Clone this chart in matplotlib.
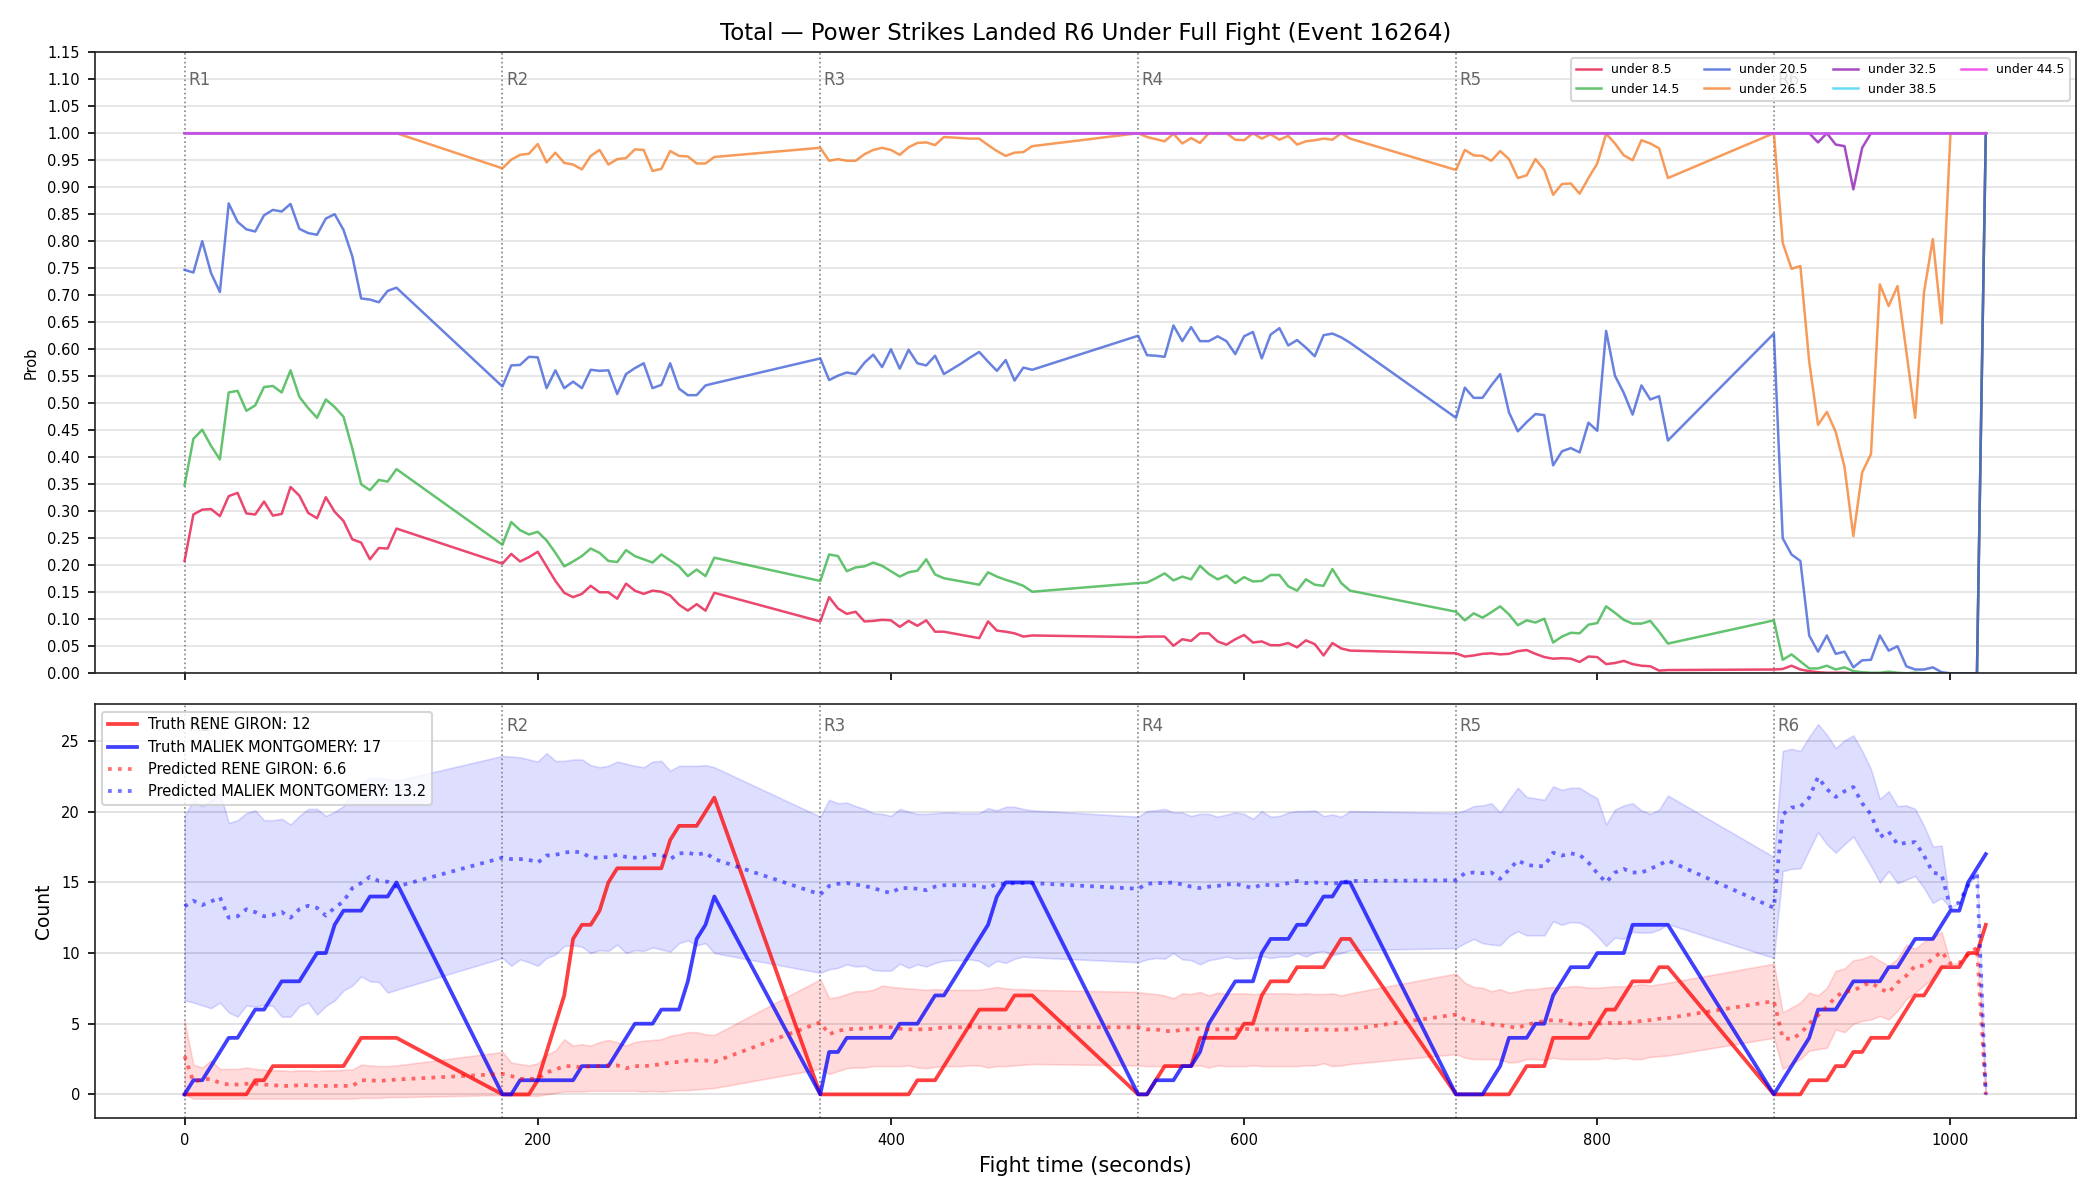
import numpy as np
import matplotlib
matplotlib.use("Agg")
import matplotlib.pyplot as plt
import matplotlib.transforms as mtransforms

# ---------------- sampling grid ----------------
ROUND_STARTS = [0, 180, 360, 540, 720, 900]
ROUND_LABELS = ["R1", "R2", "R3", "R4", "R5", "R6"]
SAMPLE_STEP = 5
SAMPLES_PER_ROUND = 25
time_s = np.concatenate([s + SAMPLE_STEP * np.arange(SAMPLES_PER_ROUND) for s in ROUND_STARTS])

# ---------------- top panel: P(total under line) ----------------
UNDER_8_5 = (
    [0.208, 0.294, 0.303, 0.304, 0.291, 0.328, 0.334, 0.296, 0.294, 0.318, 0.292, 0.295, 0.345, 0.329, 0.297, 0.287, 0.326, 0.299, 0.282, 0.248, 0.242, 0.211, 0.232, 0.231, 0.268]
    + [0.203, 0.221, 0.207, 0.215, 0.225, 0.198, 0.171, 0.149, 0.141, 0.147, 0.162, 0.150, 0.150, 0.138, 0.166, 0.153, 0.147, 0.153, 0.151, 0.144, 0.127, 0.116, 0.128, 0.116, 0.149]
    + [0.096, 0.141, 0.120, 0.110, 0.114, 0.096, 0.097, 0.099, 0.098, 0.086, 0.097, 0.088, 0.098, 0.077, 0.077, 0.074, 0.071, 0.068, 0.065, 0.096, 0.079, 0.077, 0.074, 0.068, 0.070]
    + [0.067, 0.068, 0.068, 0.068, 0.051, 0.063, 0.060, 0.074, 0.074, 0.059, 0.053, 0.063, 0.071, 0.057, 0.059, 0.052, 0.052, 0.056, 0.048, 0.061, 0.054, 0.033, 0.056, 0.046, 0.042]
    + [0.037, 0.031, 0.033, 0.036, 0.037, 0.035, 0.036, 0.041, 0.043, 0.036, 0.030, 0.027, 0.028, 0.027, 0.021, 0.031, 0.030, 0.017, 0.019, 0.023, 0.017, 0.014, 0.013, 0.005, 0.006]
    + [0.007, 0.008, 0.014, 0.007, 0.004, 0.002, 0.001, 0.001, 0.001, 0.0, 0.0, 0.0, 0.0, 0.0, 0.0, 0.0, 0.0, 0.0, 0.0, 0.0, 0.0, 0.0, 0.0, 0.0, 1.0]
)
UNDER_14_5 = (
    [0.348, 0.434, 0.451, 0.421, 0.396, 0.520, 0.523, 0.486, 0.496, 0.530, 0.532, 0.520, 0.561, 0.512, 0.491, 0.473, 0.507, 0.493, 0.475, 0.416, 0.350, 0.339, 0.358, 0.355, 0.378]
    + [0.238, 0.280, 0.265, 0.257, 0.262, 0.246, 0.223, 0.198, 0.207, 0.217, 0.231, 0.223, 0.208, 0.206, 0.228, 0.217, 0.211, 0.205, 0.220, 0.209, 0.198, 0.180, 0.192, 0.180, 0.214]
    + [0.171, 0.220, 0.217, 0.189, 0.196, 0.198, 0.205, 0.199, 0.189, 0.179, 0.187, 0.190, 0.211, 0.183, 0.176, 0.173, 0.170, 0.167, 0.164, 0.187, 0.179, 0.173, 0.168, 0.162, 0.151]
    + [0.167, 0.168, 0.176, 0.185, 0.172, 0.179, 0.174, 0.199, 0.184, 0.174, 0.181, 0.167, 0.178, 0.170, 0.171, 0.182, 0.182, 0.161, 0.153, 0.174, 0.164, 0.162, 0.193, 0.167, 0.153]
    + [0.114, 0.098, 0.111, 0.103, 0.113, 0.124, 0.109, 0.089, 0.098, 0.094, 0.101, 0.057, 0.068, 0.075, 0.074, 0.090, 0.093, 0.124, 0.112, 0.099, 0.092, 0.092, 0.097, 0.077, 0.055]
    + [0.098, 0.025, 0.035, 0.022, 0.009, 0.009, 0.014, 0.007, 0.011, 0.004, 0.002, 0.001, 0.001, 0.003, 0.001, 0.0, 0.001, 0.0, 0.0, 0.0, 0.0, 0.0, 0.0, 0.0, 1.0]
)
UNDER_20_5 = (
    [0.747, 0.742, 0.800, 0.741, 0.706, 0.870, 0.836, 0.822, 0.818, 0.848, 0.858, 0.855, 0.869, 0.823, 0.815, 0.812, 0.842, 0.850, 0.821, 0.772, 0.694, 0.692, 0.687, 0.708, 0.714]
    + [0.531, 0.570, 0.571, 0.586, 0.585, 0.528, 0.561, 0.528, 0.540, 0.528, 0.562, 0.560, 0.561, 0.517, 0.554, 0.565, 0.574, 0.528, 0.534, 0.574, 0.527, 0.515, 0.515, 0.533, 0.537]
    + [0.583, 0.543, 0.551, 0.557, 0.554, 0.575, 0.590, 0.567, 0.600, 0.564, 0.599, 0.574, 0.570, 0.588, 0.554, 0.564, 0.574, 0.585, 0.595, 0.577, 0.560, 0.580, 0.542, 0.566, 0.562]
    + [0.625, 0.589, 0.588, 0.586, 0.644, 0.615, 0.641, 0.615, 0.615, 0.624, 0.615, 0.591, 0.624, 0.632, 0.583, 0.627, 0.639, 0.607, 0.617, 0.603, 0.587, 0.626, 0.629, 0.622, 0.612]
    + [0.473, 0.529, 0.510, 0.510, 0.533, 0.554, 0.483, 0.448, 0.465, 0.480, 0.478, 0.385, 0.411, 0.417, 0.409, 0.464, 0.449, 0.634, 0.551, 0.519, 0.479, 0.533, 0.507, 0.513, 0.431]
    + [0.629, 0.250, 0.220, 0.208, 0.070, 0.040, 0.070, 0.036, 0.040, 0.011, 0.024, 0.025, 0.070, 0.042, 0.050, 0.013, 0.007, 0.007, 0.011, 0.002, 0.0, 0.0, 0.0, 0.0, 1.0]
)
UNDER_26_5 = (
    [1.0] * 25
    + [0.935, 0.951, 0.960, 0.962, 0.980, 0.946, 0.964, 0.945, 0.942, 0.933, 0.958, 0.969, 0.942, 0.952, 0.954, 0.970, 0.969, 0.930, 0.934, 0.967, 0.958, 0.957, 0.944, 0.944, 0.956]
    + [0.973, 0.949, 0.952, 0.949, 0.949, 0.961, 0.969, 0.973, 0.969, 0.960, 0.974, 0.982, 0.983, 0.978, 0.993, 0.992, 0.991, 0.990, 0.990, 0.978, 0.967, 0.958, 0.964, 0.965, 0.976]
    + [1.0, 0.993, 0.989, 0.985, 0.999, 0.981, 0.991, 0.982, 1.0, 1.0, 1.0, 0.988, 0.987, 1.0, 0.990, 0.998, 0.988, 0.995, 0.979, 0.985, 0.987, 0.990, 0.988, 1.0, 0.990]
    + [0.932, 0.969, 0.959, 0.958, 0.949, 0.967, 0.952, 0.917, 0.922, 0.952, 0.932, 0.886, 0.906, 0.907, 0.888, 0.917, 0.944, 0.999, 0.981, 0.959, 0.950, 0.987, 0.981, 0.972, 0.917]
    + [1.0, 0.797, 0.749, 0.754, 0.577, 0.460, 0.484, 0.447, 0.382, 0.254, 0.372, 0.406, 0.720, 0.680, 0.717, 0.596, 0.473, 0.705, 0.804, 0.648, 1.0, 1.0, 1.0, 1.0, 1.0]
)
UNDER_32_5 = (
    [1.0] * 125
    + [1.0, 1.0, 1.0, 1.0, 1.0, 0.983, 1.0, 0.979, 0.976, 0.896, 0.973, 1.0, 1.0, 1.0, 1.0, 1.0, 1.0, 1.0, 1.0, 1.0, 1.0, 1.0, 1.0, 1.0, 1.0]
)
UNDER_38_5 = [1.0] * 150
UNDER_44_5 = [1.0] * 150

TOP_SERIES = [UNDER_8_5, UNDER_14_5, UNDER_20_5, UNDER_26_5, UNDER_32_5, UNDER_38_5, UNDER_44_5]
TOP_LABELS = ["under 8.5", "under 14.5", "under 20.5", "under 26.5", "under 32.5", "under 38.5", "under 44.5"]
TOP_COLORS = ["#e6194b", "#3cb44b", "#4363d8", "#f58231", "#911eb4", "#42d4f4", "#f032e6"]

# ---------------- bottom panel: counts ----------------
TRUTH_RENE = (
    [0, 0, 0, 0, 0, 0, 0, 0, 1, 1, 2, 2, 2, 2, 2, 2, 2, 2, 2, 3, 4, 4, 4, 4, 4]
    + [0, 0, 0, 0, 1, 3, 5, 7, 11, 12, 12, 13, 15, 16, 16, 16, 16, 16, 16, 18, 19, 19, 19, 20, 21]
    + [0, 0, 0, 0, 0, 0, 0, 0, 0, 0, 0, 1, 1, 1, 2, 3, 4, 5, 6, 6, 6, 6, 7, 7, 7]
    + [0, 0, 1, 2, 2, 2, 2, 4, 4, 4, 4, 4, 5, 5, 7, 8, 8, 8, 9, 9, 9, 9, 10, 11, 11]
    + [0, 0, 0, 0, 0, 0, 0, 1, 2, 2, 2, 4, 4, 4, 4, 4, 5, 6, 6, 7, 8, 8, 8, 9, 9]
    + [0, 0, 0, 0, 1, 1, 1, 2, 2, 3, 3, 4, 4, 4, 5, 6, 7, 7, 8, 9, 9, 9, 10, 10, 12]
)
TRUTH_MALIEK = (
    [0, 1, 1, 2, 3, 4, 4, 5, 6, 6, 7, 8, 8, 8, 9, 10, 10, 12, 13, 13, 13, 14, 14, 14, 15]
    + [0, 0, 1, 1, 1, 1, 1, 1, 1, 2, 2, 2, 2, 3, 4, 5, 5, 5, 6, 6, 6, 8, 11, 12, 14]
    + [0, 3, 3, 4, 4, 4, 4, 4, 4, 5, 5, 5, 6, 7, 7, 8, 9, 10, 11, 12, 14, 15, 15, 15, 15]
    + [0, 0, 1, 1, 1, 2, 2, 3, 5, 6, 7, 8, 8, 8, 10, 11, 11, 11, 12, 12, 13, 14, 14, 15, 15]
    + [0, 0, 0, 0, 1, 2, 4, 4, 4, 5, 5, 7, 8, 9, 9, 9, 10, 10, 10, 10, 12, 12, 12, 12, 12]
    + [0, 1, 2, 3, 4, 6, 6, 6, 7, 8, 8, 8, 8, 9, 9, 10, 11, 11, 11, 12, 13, 13, 15, 16, 17]
)
PRED_RENE = (
    [2.7, 0.9, 1.05, 1.1, 0.8, 0.7, 0.7, 0.75, 0.75, 0.7, 0.65, 0.6, 0.6, 0.65, 0.65, 0.6, 0.6, 0.6, 0.6, 0.6, 1.0, 1.0, 0.95, 1.0, 1.05]
    + [1.45, 1.3, 1.1, 1.1, 1.1, 1.55, 1.75, 2.0, 2.0, 1.9, 2.0, 2.0, 2.05, 2.05, 1.85, 2.0, 2.0, 2.05, 2.15, 2.25, 2.3, 2.4, 2.4, 2.4, 2.3]
    + [5.1, 4.25, 4.5, 4.6, 4.65, 4.65, 4.75, 4.8, 4.75, 4.65, 4.6, 4.6, 4.6, 4.65, 4.75, 4.75, 4.75, 4.8, 4.75, 4.75, 4.65, 4.75, 4.8, 4.8, 4.75]
    + [4.75, 4.6, 4.6, 4.5, 4.45, 4.6, 4.6, 4.65, 4.6, 4.6, 4.6, 4.6, 4.65, 4.6, 4.6, 4.6, 4.6, 4.6, 4.6, 4.55, 4.6, 4.6, 4.55, 4.6, 4.6]
    + [5.65, 5.3, 5.2, 5.05, 4.95, 4.9, 4.8, 4.7, 4.95, 5.05, 5.2, 5.25, 5.2, 5.0, 4.95, 5.05, 5.0, 5.05, 5.05, 5.05, 5.1, 5.2, 5.25, 5.35, 5.4]
    + [6.6, 4.0, 3.9, 4.3, 5.0, 5.6, 6.2, 6.9, 7.3, 7.3, 7.7, 7.9, 7.5, 7.2, 7.9, 8.4, 9.1, 9.1, 9.6, 10.1, 9.25, 9.3, 9.9, 10.4, 0.0]
)
PRED_RENE_LO = (
    [0.0, -0.3, -0.3, -0.3, -0.3, -0.3, -0.3, -0.3, -0.3, -0.3, -0.3, -0.3, -0.3, -0.3, -0.3, -0.3, -0.3, -0.3, -0.3, -0.3, -0.25, -0.25, -0.25, -0.2, -0.2]
    + [-0.05, -0.1, -0.1, -0.1, -0.1, 0.0, 0.1, 0.2, 0.2, 0.2, 0.25, 0.25, 0.25, 0.25, 0.25, 0.25, 0.2, 0.25, 0.2, 0.25, 0.3, 0.3, 0.35, 0.4, 0.45]
    + [1.8, 1.45, 1.65, 1.85, 1.9, 1.9, 2.0, 2.0, 2.0, 2.0, 2.05, 1.9, 1.85, 1.95, 2.0, 2.0, 2.0, 2.05, 2.05, 1.9, 2.0, 2.0, 2.05, 2.1, 2.15]
    + [2.05, 2.0, 2.0, 2.0, 2.0, 2.05, 2.0, 2.05, 1.9, 2.05, 2.0, 2.0, 2.0, 2.05, 2.0, 2.0, 2.0, 2.0, 2.0, 2.05, 2.05, 2.2, 2.0, 2.05, 2.15]
    + [2.85, 2.6, 2.5, 2.5, 2.5, 2.45, 2.25, 2.3, 2.5, 2.5, 2.45, 2.6, 2.5, 2.5, 2.5, 2.5, 2.5, 2.6, 2.5, 2.6, 2.5, 2.5, 2.65, 2.7, 2.75]
    + [4.0, 1.8, 2.15, 2.5, 3.1, 3.2, 3.3, 4.6, 4.4, 5.0, 5.2, 5.3, 5.55, 5.3, 5.9, 6.75, 7.2, 7.7, 8.25, 9.1, 9.25, 9.3, 9.9, 10.4, 0.0]
)
PRED_RENE_HI = (
    [5.2, 2.1, 1.9, 2.4, 1.8, 1.8, 1.8, 1.9, 1.8, 1.75, 1.7, 1.7, 1.65, 1.7, 1.7, 1.65, 1.7, 1.7, 1.75, 1.75, 2.1, 2.05, 2.0, 2.0, 2.05]
    + [3.0, 2.25, 2.15, 2.05, 2.2, 2.8, 3.1, 3.9, 3.45, 3.55, 3.45, 3.7, 3.85, 3.7, 3.45, 3.7, 3.8, 3.85, 3.9, 4.15, 4.25, 4.4, 4.4, 4.25, 4.2]
    + [8.15, 6.8, 6.9, 7.1, 7.3, 7.3, 7.4, 7.7, 7.6, 7.55, 7.5, 7.45, 7.4, 7.45, 7.4, 7.4, 7.4, 7.4, 7.4, 7.5, 7.6, 7.5, 7.45, 7.45, 7.4]
    + [7.25, 7.15, 7.1, 7.0, 6.8, 7.15, 7.1, 7.25, 7.0, 7.2, 7.1, 7.15, 7.15, 7.1, 7.15, 7.15, 7.15, 7.15, 7.1, 7.15, 7.1, 7.1, 7.15, 7.0, 7.15]
    + [8.55, 7.9, 7.6, 7.55, 7.3, 7.45, 7.2, 7.3, 7.45, 7.45, 7.55, 7.6, 7.55, 7.65, 7.65, 7.55, 7.55, 7.6, 7.65, 7.65, 7.7, 7.8, 7.7, 7.8, 7.9]
    + [9.25, 5.8, 6.15, 6.5, 7.2, 7.0, 7.55, 8.75, 8.9, 9.5, 9.6, 9.85, 9.45, 9.1, 9.6, 10.6, 10.3, 10.8, 11.1, 11.5, 9.25, 9.3, 9.9, 10.4, 0.0]
)
PRED_MALIEK = (
    [13.3, 13.7, 13.4, 13.65, 13.95, 12.5, 12.6, 13.1, 12.9, 12.6, 12.7, 12.9, 12.5, 13.1, 13.35, 13.2, 12.65, 13.2, 13.65, 14.6, 14.95, 15.4, 15.1, 15.05, 14.7]
    + [16.75, 16.65, 16.65, 16.6, 16.4, 16.9, 16.95, 17.1, 17.2, 17.1, 16.75, 16.75, 16.8, 16.95, 16.8, 16.75, 16.75, 16.95, 16.95, 16.65, 17.05, 17.1, 16.95, 17.1, 16.65]
    + [14.15, 14.75, 14.9, 14.95, 14.85, 14.75, 14.6, 14.4, 14.25, 14.6, 14.6, 14.55, 14.45, 14.7, 14.8, 14.8, 14.8, 14.8, 14.75, 14.6, 14.9, 14.9, 14.95, 14.95, 14.95]
    + [14.55, 14.9, 14.95, 14.95, 15.0, 14.85, 14.7, 14.6, 14.7, 14.75, 14.85, 14.9, 14.75, 14.6, 14.85, 14.8, 14.8, 14.95, 15.1, 14.95, 15.0, 14.95, 14.9, 15.0, 15.1]
    + [15.15, 15.65, 15.7, 15.65, 15.7, 15.25, 15.9, 16.55, 16.25, 16.15, 16.15, 17.1, 16.9, 17.05, 16.95, 16.4, 15.65, 15.0, 15.7, 15.95, 15.7, 15.7, 15.95, 16.25, 16.55]
    + [13.2, 19.8, 20.3, 20.35, 21.0, 22.45, 21.6, 21.05, 21.45, 21.75, 20.6, 19.8, 18.2, 18.6, 17.7, 17.8, 17.85, 16.9, 15.7, 15.55, 13.2, 13.6, 14.8, 15.7, 0.0]
)
PRED_MALIEK_LO = (
    [6.65, 6.5, 6.3, 6.1, 6.5, 5.8, 5.5, 6.3, 6.2, 6.35, 6.25, 5.5, 5.5, 6.25, 6.5, 5.65, 6.25, 6.65, 7.35, 7.7, 8.35, 8.0, 7.95, 7.2, 7.4]
    + [9.65, 9.1, 9.55, 9.35, 9.1, 9.65, 9.9, 10.5, 10.55, 10.45, 10.0, 10.2, 10.15, 10.6, 10.0, 10.2, 10.15, 10.4, 10.25, 10.1, 10.7, 10.9, 10.55, 10.7, 10.0]
    + [8.6, 8.85, 8.95, 9.2, 9.05, 9.1, 8.8, 8.75, 8.75, 9.25, 8.95, 9.2, 9.05, 9.3, 9.45, 9.5, 9.5, 9.55, 9.45, 9.05, 9.45, 9.3, 9.6, 9.75, 9.7]
    + [9.35, 9.55, 9.65, 9.6, 10.0, 9.55, 9.5, 9.2, 9.5, 9.6, 9.75, 9.6, 9.65, 9.65, 9.8, 9.65, 9.75, 9.75, 10.0, 9.75, 10.05, 10.15, 9.85, 10.0, 10.2]
    + [10.35, 10.7, 11.0, 10.7, 10.6, 10.55, 11.2, 11.55, 11.25, 11.25, 11.25, 12.25, 12.0, 12.2, 12.15, 11.8, 11.2, 10.5, 11.1, 11.0, 11.5, 11.45, 11.45, 11.65, 12.05]
    + [9.65, 15.8, 15.95, 16.0, 17.3, 18.55, 17.7, 17.1, 17.7, 18.25, 17.2, 16.15, 15.0, 15.8, 14.95, 15.2, 15.45, 14.6, 13.55, 13.9, 13.2, 13.6, 14.8, 15.7, 0.0]
)
PRED_MALIEK_HI = (
    [19.7, 20.8, 20.4, 20.8, 21.4, 19.2, 19.4, 19.9, 20.1, 19.4, 19.4, 19.5, 19.1, 19.7, 20.2, 20.2, 19.7, 20.0, 20.4, 21.4, 22.0, 22.4, 22.4, 22.3, 22.2]
    + [23.95, 23.9, 23.85, 23.7, 23.55, 24.15, 23.6, 23.6, 23.7, 23.7, 23.3, 23.15, 23.25, 23.55, 23.4, 23.25, 23.15, 23.55, 23.6, 22.9, 23.25, 23.25, 23.25, 23.3, 23.15]
    + [19.65, 20.85, 20.6, 20.65, 20.4, 20.2, 19.9, 19.85, 19.7, 20.2, 20.0, 19.85, 19.85, 19.9, 19.95, 19.95, 19.9, 19.9, 19.9, 20.25, 20.1, 20.35, 20.35, 20.2, 20.1]
    + [19.65, 20.05, 20.1, 20.2, 19.95, 19.95, 19.7, 19.85, 19.85, 19.65, 19.8, 19.95, 19.85, 19.5, 20.05, 19.65, 19.7, 19.95, 20.05, 20.05, 20.1, 19.7, 19.8, 19.65, 20.05]
    + [19.9, 20.1, 20.4, 20.45, 20.6, 19.95, 20.85, 21.7, 21.05, 20.95, 20.85, 21.8, 21.55, 21.7, 21.7, 21.3, 20.95, 19.1, 20.15, 20.45, 20.6, 20.1, 19.85, 20.15, 21.15]
    + [16.8, 24.3, 24.45, 24.3, 25.3, 26.2, 25.45, 24.5, 25.05, 25.4, 24.3, 23.0, 20.9, 21.45, 20.4, 20.45, 20.2, 19.0, 17.55, 17.6, 13.2, 13.6, 14.8, 15.7, 0.0]
)

TITLE = "Total \u2014 Power Strikes Landed R6 Under Full Fight (Event 16264)"
LEGEND_BOTTOM = ["Truth RENE GIRON: 12", "Truth MALIEK MONTGOMERY: 17",
                 "Predicted RENE GIRON: 6.6", "Predicted MALIEK MONTGOMERY: 13.2"]

# ---------------- figure ----------------
fig, (ax1, ax2) = plt.subplots(2, 1, figsize=(14, 8), dpi=150, sharex=True,
                               gridspec_kw={"height_ratios": [3, 2]})
fig.subplots_adjust(left=0.045, right=0.9885, top=0.9565, bottom=0.068, hspace=0.06)

# top
for vals, lab, col in zip(TOP_SERIES, TOP_LABELS, TOP_COLORS):
    ax1.plot(time_s, vals, color=col, lw=1.2, alpha=0.8, label=lab)
ax1.set_ylim(0, 1.15)
ax1.set_yticks(np.round(np.arange(0, 1.151, 0.05), 2))
ax1.yaxis.set_major_formatter(matplotlib.ticker.FormatStrFormatter("%.2f"))
ax1.set_ylabel("Prob", fontsize=7)
ax1.set_title(TITLE, fontsize=11)
ax1.grid(axis="y", color="#e3e3e3", lw=0.8)
ax1.set_axisbelow(True)
ax1.tick_params(labelsize=7)
plt.setp(ax1.get_xticklabels(), visible=False)
leg1 = ax1.legend(loc="upper right", ncol=4, fontsize=6, framealpha=0.8)
leg1.set_zorder(10)

# bottom
ax2.fill_between(time_s, PRED_RENE_LO, PRED_RENE_HI, color="red", alpha=0.14, lw=0.8)
ax2.fill_between(time_s, PRED_MALIEK_LO, PRED_MALIEK_HI, color="blue", alpha=0.13, lw=0.8)
ax2.plot(time_s, TRUTH_RENE, color="red", lw=1.8, alpha=0.75, label=LEGEND_BOTTOM[0])
ax2.plot(time_s, TRUTH_MALIEK, color="blue", lw=1.8, alpha=0.75, label=LEGEND_BOTTOM[1])
ax2.plot(time_s, PRED_RENE, color="red", lw=1.8, ls=":", alpha=0.55, label=LEGEND_BOTTOM[2])
ax2.plot(time_s, PRED_MALIEK, color="blue", lw=1.8, ls=":", alpha=0.55, label=LEGEND_BOTTOM[3])
ax2.set_ylim(-1.7, 27.6)
ax2.set_yticks([0, 5, 10, 15, 20, 25])
ax2.set_xlim(-51, 1071)
ax2.set_xticks([0, 200, 400, 600, 800, 1000])
ax2.set_ylabel("Count", fontsize=9)
ax2.set_xlabel("Fight time (seconds)", fontsize=10)
ax2.grid(axis="y", color="#dddddd", lw=0.8)
ax2.set_axisbelow(True)
ax2.tick_params(labelsize=7)
leg2 = ax2.legend(loc="upper left", fontsize=7, framealpha=0.8)
leg2.set_zorder(10)

# round markers
for ax in (ax1, ax2):
    trans = mtransforms.blended_transform_factory(ax.transData, ax.transAxes)
    for s, lab in zip(ROUND_STARTS, ROUND_LABELS):
        ax.axvline(s, color="#777777", ls=":", lw=0.8, alpha=0.9, zorder=1)
        ax.text(s + 2, 0.97, lab, transform=trans, ha="left", va="top",
                fontsize=8, color="#666666", zorder=2)
    for sp in ax.spines.values():
        sp.set_color("#222222")

fig.savefig("out.png", dpi=150)
